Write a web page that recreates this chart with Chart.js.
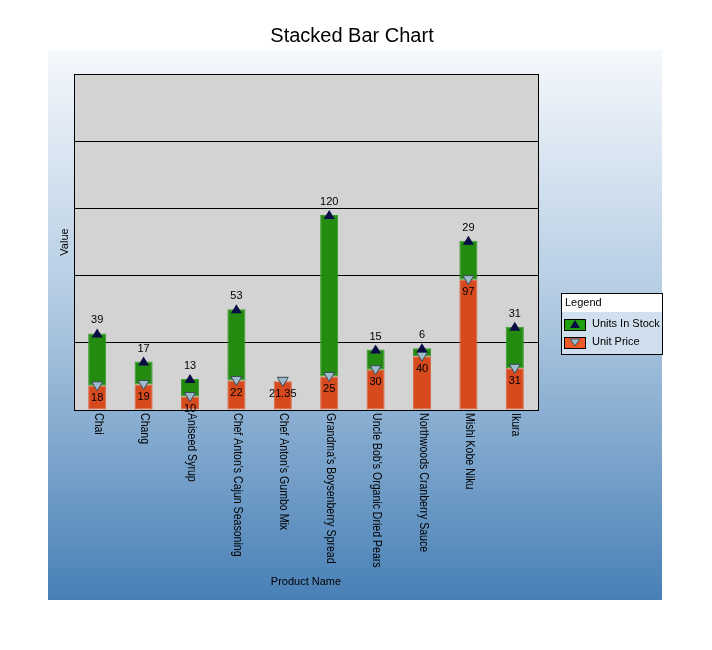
<!DOCTYPE html>
<html>
<head>
<meta charset="utf-8">
<script src="https://cdn.jsdelivr.net/npm/chart.js@4/dist/chart.umd.min.js"></script>
<style>
  html, body { margin: 0; padding: 0; background: #ffffff; }
  #wrap { width: 712px; height: 650px; position: relative; }
</style>
</head>
<body>
<div id="wrap"><canvas id="c" width="712" height="650"></canvas></div>
<script>
const categories = ["Chai", "Chang", "Aniseed Syrup", "Chef Anton's Cajun Seasoning", "Chef Anton's Gumbo Mix", "Grandma's Boysenberry Spread", "Uncle Bob's Organic Dried Pears", "Northwoods Cranberry Sauce", "Mishi Kobe Niku", "Ikura"];
const unitPrice = [18, 19, 10, 22, 21.35, 25, 30, 40, 97, 31];
const unitsInStock = [39, 17, 13, 53, 0, 120, 15, 6, 29, 31];
const yTicks = [0, 50, 100, 150, 200, 250];

const FONT = "'Liberation Sans', Arial, sans-serif";
const chartTitle = 'Stacked Bar Chart';

const panelPlugin = {
  id: 'panel',
  beforeDraw(chart) {
    const ctx = chart.ctx;
    ctx.save();
    ctx.fillStyle = '#ffffff';
    ctx.fillRect(0, 0, chart.width, chart.height);
    const g = ctx.createLinearGradient(0, 50, 0, 600);
    g.addColorStop(0, '#f5f8fc');
    g.addColorStop(0.45, '#b4cce3');
    g.addColorStop(1, '#4880b6');
    ctx.fillStyle = g;
    ctx.fillRect(48, 50, 614, 550);
    const a = chart.chartArea;
    ctx.fillStyle = '#d3d3d3';
    ctx.fillRect(a.left, a.top, a.right - a.left, a.bottom - a.top);
    // title
    ctx.fillStyle = '#000000';
    ctx.font = '20px ' + FONT;
    ctx.textAlign = 'center';
    ctx.textBaseline = 'middle';
    ctx.fillText(chartTitle, chart.width / 2 - 4, 36);
    ctx.restore();
  },
  afterDraw(chart) {
    const ctx = chart.ctx;
    const a = chart.chartArea;
    ctx.save();
    // plot border
    ctx.strokeStyle = '#000000';
    ctx.lineWidth = 1;
    ctx.strokeRect(Math.round(a.left) + 0.5, Math.round(a.top) + 0.5, Math.round(a.right - a.left), Math.round(a.bottom - a.top));

    // markers & value labels
    const priceMeta = chart.getDatasetMeta(0);
    const stockMeta = chart.getDatasetMeta(1);
    ctx.font = '11px ' + FONT;
    ctx.textAlign = 'center';
    ctx.textBaseline = 'middle';
    priceMeta.data.forEach((bar, i) => {
      const v = unitPrice[i];
      if (!v) return;
      const x = bar.x, y = bar.y;
      ctx.beginPath();
      ctx.moveTo(x - 5.5, y - 4);
      ctx.lineTo(x + 5.5, y - 4);
      ctx.lineTo(x, y + 5);
      ctx.closePath();
      ctx.fillStyle = '#9fbccc';
      ctx.fill();
      ctx.strokeStyle = '#3a4a55';
      ctx.lineWidth = 1;
      ctx.stroke();
      ctx.fillStyle = '#000000';
      ctx.fillText(String(v), x, y + 12.5);
    });
    stockMeta.data.forEach((bar, i) => {
      const v = unitsInStock[i];
      if (!v) return;
      const x = bar.x, y = bar.y;
      ctx.beginPath();
      ctx.moveTo(x - 5.5, y + 4);
      ctx.lineTo(x + 5.5, y + 4);
      ctx.lineTo(x, y - 5);
      ctx.closePath();
      ctx.fillStyle = '#0b0b45';
      ctx.fill();
      ctx.fillStyle = '#000000';
      ctx.fillText(String(v), x, y - 13);
    });

    // rotated x labels (top-to-bottom), slightly condensed
    const xs = chart.scales.x;
    ctx.font = '12px ' + FONT;
    ctx.textAlign = 'left';
    ctx.textBaseline = 'middle';
    ctx.fillStyle = '#000000';
    categories.forEach((lab, i) => {
      const x = xs.getPixelForValue(i);
      ctx.save();
      ctx.translate(x + 1, a.bottom + 3);
      ctx.rotate(Math.PI / 2);
      ctx.scale(0.88, 1);
      ctx.fillText(lab, 0, 0);
      ctx.restore();
    });

    // legend
    const lx = 561, ly = 293, lw = 101, lh = 61;
    ctx.fillStyle = 'rgba(215,228,240,0.85)';
    ctx.fillRect(lx, ly, lw, lh);
    ctx.fillStyle = '#ffffff';
    ctx.fillRect(lx, ly, lw, 19);
    ctx.strokeStyle = '#000000';
    ctx.lineWidth = 1;
    ctx.strokeRect(lx + 0.5, ly + 0.5, lw, lh);
    ctx.fillStyle = '#000000';
    ctx.font = '11px ' + FONT;
    ctx.textAlign = 'left';
    ctx.textBaseline = 'middle';
    ctx.fillText('Legend', lx + 4, ly + 10);
    const items = [
      { label: chart.data.datasets[1].label, color: '#22a010', up: true },
      { label: chart.data.datasets[0].label, color: '#f05a28', up: false }
    ];
    items.forEach((it, k) => {
      const cy = ly + 31 + k * 18;
      const sx = lx + 3;
      ctx.fillStyle = it.color;
      ctx.fillRect(sx, cy - 5, 21, 11);
      ctx.strokeStyle = '#000000';
      ctx.strokeRect(sx + 0.5, cy - 5 + 0.5, 21, 11);
      const mx = sx + 11;
      ctx.beginPath();
      if (it.up) {
        ctx.moveTo(mx - 5, cy + 4); ctx.lineTo(mx + 5, cy + 4); ctx.lineTo(mx, cy - 4);
        ctx.closePath(); ctx.fillStyle = '#0b0b45'; ctx.fill();
      } else {
        ctx.moveTo(mx - 5, cy - 3); ctx.lineTo(mx + 5, cy - 3); ctx.lineTo(mx, cy + 4);
        ctx.closePath(); ctx.fillStyle = '#9fbccc'; ctx.fill();
        ctx.strokeStyle = '#3a4a55'; ctx.stroke();
      }
      ctx.fillStyle = '#000000';
      ctx.fillText(it.label, lx + 31, cy);
    });
    ctx.restore();
  }
};

new Chart(document.getElementById('c'), {
  type: 'bar',
  data: {
    labels: categories,
    datasets: [
      {
        label: 'Unit Price',
        data: unitPrice,
        backgroundColor: '#d64a1e',
        borderColor: '#e06a44',
        borderWidth: 1,
        borderSkipped: false,
        barPercentage: 0.78,
        categoryPercentage: 0.5
      },
      {
        label: 'Units In Stock',
        data: unitsInStock,
        backgroundColor: '#228b10',
        borderColor: '#3a9e2a',
        borderWidth: 1,
        borderSkipped: false,
        barPercentage: 0.78,
        categoryPercentage: 0.5
      }
    ]
  },
  options: {
    responsive: false,
    animation: false,
    devicePixelRatio: 1,
    layout: { padding: { left: 48, right: 174, top: 74, bottom: 50 } },
    plugins: {
      legend: { display: false },
      tooltip: { enabled: false },
      title: { display: false }
    },
    scales: {
      x: {
        stacked: true,
        grid: { display: false },
        border: { display: false },
        ticks: { display: false },
        title: {
          display: true,
          text: 'Product Name',
          color: '#000000',
          font: { family: FONT, size: 11 },
          padding: { top: 0, bottom: 11 }
        },
        afterFit(scale) { scale.height = 190; }
      },
      y: {
        stacked: true,
        min: yTicks[0],
        max: yTicks[yTicks.length - 1],
        afterBuildTicks(scale) { scale.ticks = yTicks.map(v => ({ value: v })); },
        grid: { color: '#000000', lineWidth: 1, drawTicks: false },
        border: { display: true, color: '#000000' },
        ticks: { display: false },
        title: {
          display: true,
          text: 'Value',
          color: '#000000',
          font: { family: FONT, size: 11 },
          padding: { top: 10, bottom: 0 }
        },
        afterFit(scale) { scale.width = 26; }
      }
    }
  },
  plugins: [panelPlugin]
});
</script>
</body>
</html>
